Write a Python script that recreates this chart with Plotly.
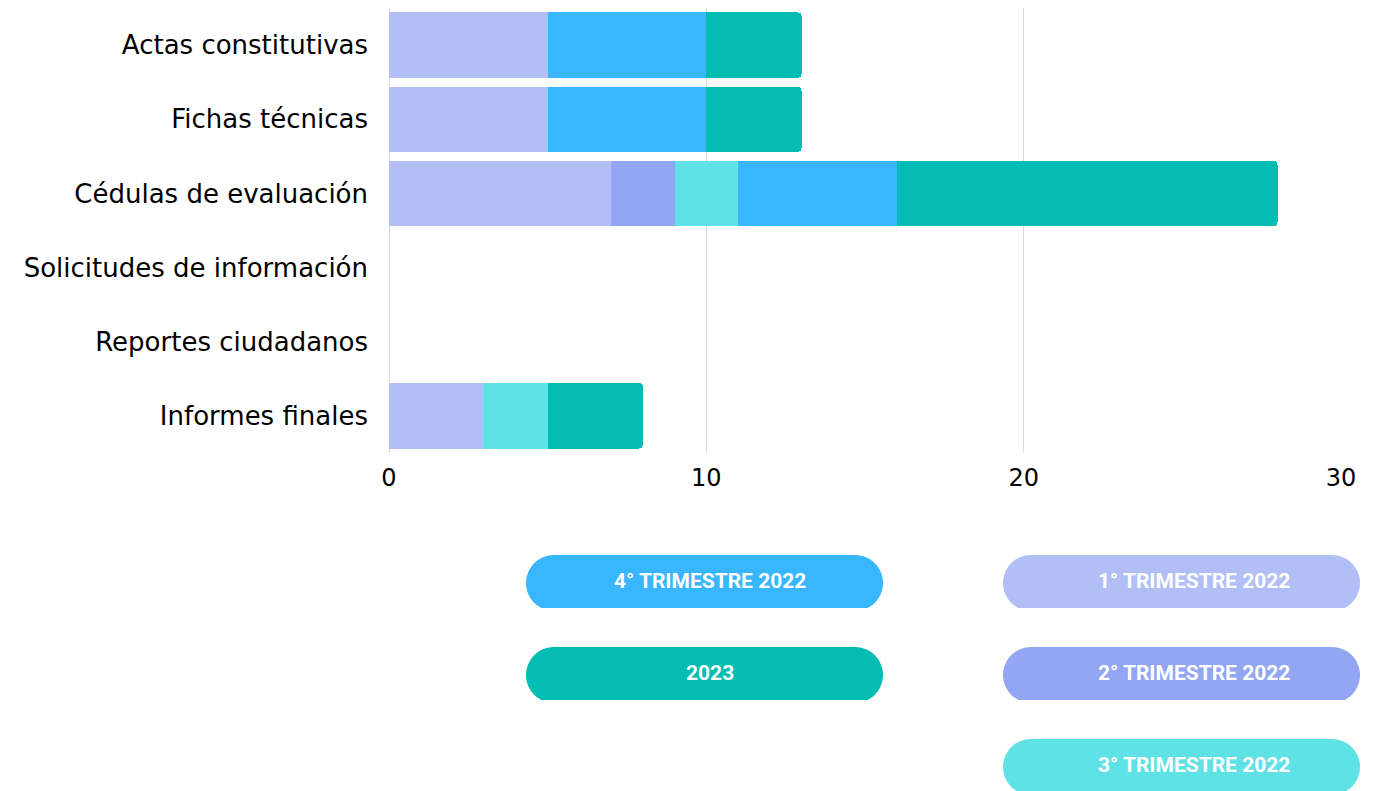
import numpy as np
import plotly.graph_objects as go

categories = ["Actas constitutivas", "Fichas técnicas", "Cédulas de evaluación",
              "Solicitudes de información", "Reportes ciudadanos", "Informes finales"]
series_names = ["1° TRIMESTRE 2022", "2° TRIMESTRE 2022", "3° TRIMESTRE 2022",
                "4° TRIMESTRE 2022", "2023"]
t1_2022 = [5, 5, 7, 0, 0, 3]
t2_2022 = [0, 0, 2, 0, 0, 0]
t3_2022 = [0, 0, 2, 0, 0, 2]
t4_2022 = [5, 5, 5, 0, 0, 0]
y2023 = [3, 3, 12, 0, 0, 3]
series_values = [t1_2022, t2_2022, t3_2022, t4_2022, y2023]
colors = ["#B2BFF7", "#93A6F3", "#5EE2E6", "#38B6FF", "#03BCB3"]
x_ticks = [0, 10, 20, 30]

OFF = 8  # page body margin
W, H = 1374 - OFF, 791 - OFF
L, T = 389 - OFF, 8 - OFF
R = W - (1341 - OFF)
B = H - (453 - OFF)
PW, PH = W - L - R, H - T - B

fig = go.Figure()
for name, vals, col in zip(series_names, series_values, colors):
    fig.add_trace(go.Bar(y=categories, x=vals, name=name, orientation="h",
                         marker=dict(color=col, line=dict(width=0))))


def px2paper(px, py):
    # px, py in reference page pixels
    px -= OFF
    py -= OFF
    return (px - L) / PW, (H - B - py) / PH


def pill_path(x0, y0, w, r, h):
    cy = y0 + r
    phib = np.arcsin(min((h - r) / r, 1.0))
    pts = []
    cx1 = x0 + r
    for phi in np.linspace(phib, -np.pi / 2, 24):
        pts.append((cx1 - r * np.cos(phi), cy + r * np.sin(phi)))
    cx2 = x0 + w - r
    for phi in np.linspace(-np.pi / 2, phib, 24):
        pts.append((cx2 + r * np.cos(phi), cy + r * np.sin(phi)))
    d = ""
    for i, (px, py) in enumerate(pts):
        X, Y = px2paper(px, py)
        d += ("M" if i == 0 else "L") + f"{X:.5f},{Y:.5f} "
    return d + "Z"


# legend pills: (series index, left px, top px, text center x px)
pills = [(3, 526, 555, 709.5), (0, 1003, 555, 1194),
         (4, 526, 647, 709.5), (1, 1003, 647, 1194),
         (2, 1003, 739, 1194)]
shapes = []
annotations = []
for idx, lx, ty, tcx in pills:
    shapes.append(dict(type="path", xref="paper", yref="paper",
                       path=pill_path(lx, ty, 357, 28, 53),
                       fillcolor=colors[idx], line=dict(width=0), layer="above"))
    ax, ay = px2paper(tcx, ty + 26)
    annotations.append(dict(x=ax, y=ay, xref="paper", yref="paper", showarrow=False,
                            text=series_names[idx], xanchor="center", yanchor="middle",
                            font=dict(family="Roboto", size=21, color="white", weight=700)))

fig.update_layout(
    width=W, height=H,
    margin=dict(l=L, r=R, t=T, b=B, pad=0),
    barmode="stack", bargap=0.12, barcornerradius=4,
    plot_bgcolor="white", paper_bgcolor="white",
    showlegend=False,
    shapes=shapes, annotations=annotations,
    font=dict(family="DejaVu Sans", color="#000000"),
    xaxis=dict(range=[0, 30], tickvals=x_ticks, showgrid=True, gridcolor="#D9D9D9",
               gridwidth=1, zeroline=True, zerolinecolor="#D9D9D9", zerolinewidth=1,
               showline=False, tickfont=dict(size=24, color="#000000"),
               ticklabelstandoff=8),
    yaxis=dict(categoryorder="array", categoryarray=categories, autorange="reversed",
               showgrid=False, zeroline=False, showline=False,
               tickfont=dict(size=26, color="#000000"), ticklabelstandoff=20),
)

fig.write_html("out.html")
